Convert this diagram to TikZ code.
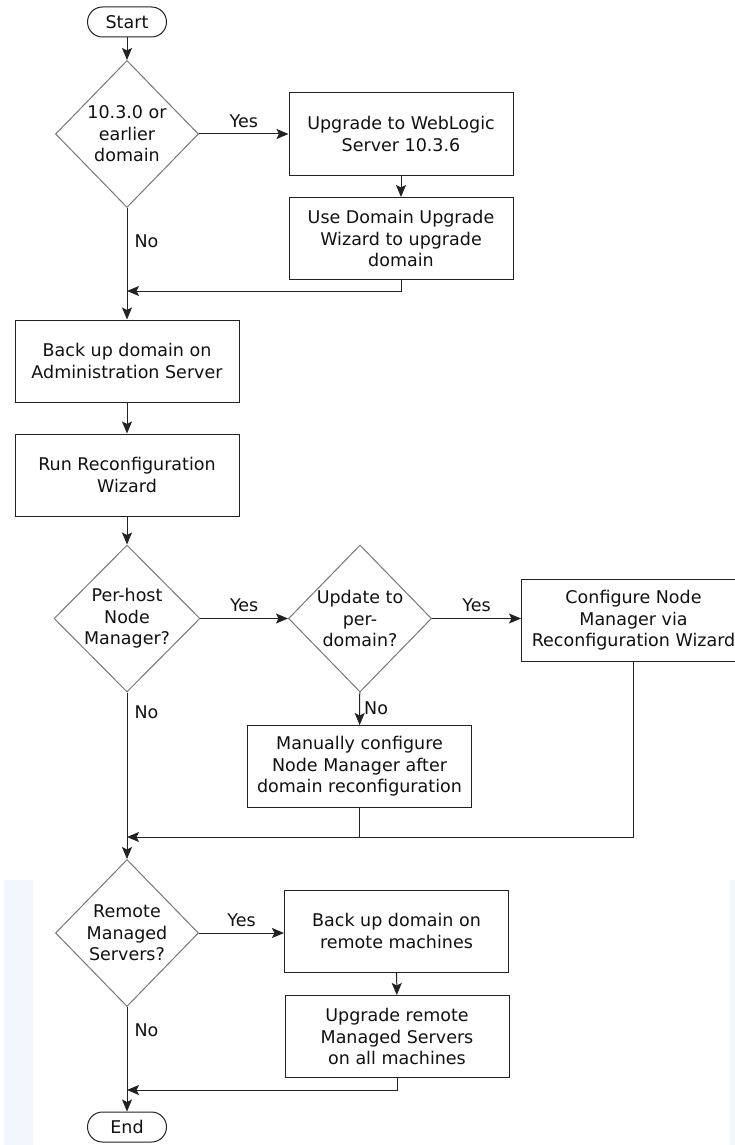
\documentclass[tikz,border=0pt]{standalone}
\usepackage{fontspec}
\setmainfont{DejaVu Sans}
\usetikzlibrary{shapes.geometric,arrows.meta}
\definecolor{linec}{HTML}{222222}
\definecolor{diac}{HTML}{777777}
\definecolor{txtc}{HTML}{111111}
\definecolor{bgstrip}{HTML}{F3F7FD}
\tikzset{
  x=1pt,y=-1pt,
  every node/.style={font=\fontsize{17.5}{21.5}\selectfont, text=txtc},
  procbox/.style={draw=linec, line width=1pt, rectangle, minimum width=224pt, minimum height=82pt, align=center, inner sep=2pt},
  decision/.style={draw=diac, line width=1pt, diamond, aspect=1, minimum width=143pt, minimum height=147pt, inner sep=0pt, align=center},
  termnode/.style={draw=linec, line width=1pt, rectangle, rounded corners=15pt, minimum width=79pt, minimum height=30pt, inner sep=0pt},
  arr/.style={draw=linec, line width=1pt, -{Stealth[length=12pt,width=10pt,inset=2.5pt]}},
  ln/.style={draw=linec, line width=1pt},
  lbl/.style={inner sep=0pt}
}
\begin{document}
\begin{tikzpicture}
\path[use as bounding box, clip] (0,0) rectangle (735,1145);
\fill[white] (0,0) rectangle (735,1145);
\fill[bgstrip] (4,880) rectangle (33,1145);
\fill[bgstrip] (730,880) rectangle (735,1145);

% nodes
\node[termnode] (start) at (127,22) {Start};
\node[decision] (d1) at (127,134) {10.3.0 or\\earlier\\domain};
\node[procbox] (b1) at (401,134) {Upgrade to WebLogic\\Server 10.3.6};
\node[procbox] (b2) at (401,238.5) {Use Domain Upgrade\\Wizard to upgrade\\domain};
\node[procbox] (b3) at (127,361) {Back up domain on\\Administration Server};
\node[procbox] (b4) at (127,475) {Run Reconfiguration\\Wizard};
\node[decision] (d2) at (127,618.5) {Per-host\\Node\\Manager?};
\node[decision] (d3) at (360,618.5) {Update to\\per-\\domain?};
\node[procbox] (b5) at (633.5,620.5) {Configure Node\\Manager via\\Reconfiguration Wizard};
\node[procbox] (b6) at (359.5,766.5) {Manually configure\\Node Manager after\\domain reconfiguration};
\node[decision] (d4) at (127,933) {Remote\\Managed\\Servers?};
\node[procbox] (b7) at (396.5,931) {Back up domain on\\remote machines};
\node[procbox] (b8) at (397,1036.5) {Upgrade remote\\Managed Servers\\on all machines};
\node[termnode] (end) at (127,1127) {End};

% junction points
\coordinate (j1) at (127,291);
\coordinate (j2) at (127,837);
\coordinate (j3) at (127,1090);

% connectors
\draw[arr] (start) -- (d1);
\draw[arr] (d1) -- node[lbl, above=6pt] {Yes} (b1);
\draw[arr] (b1) -- (b2);
\draw[arr] (b2.south) |- (j1);
\draw[arr] (d1) -- node[lbl, pos=0.3, right=7pt] {No} (b3);
\draw[arr] (b3) -- (b4);
\draw[arr] (b4) -- (d2);
\draw[arr] (d2) -- node[lbl, above=6pt] {Yes} (d3);
\draw[arr] (d3.east) -- node[lbl, above=6pt] {Yes} (d3.east -| b5.west);
\draw[arr] (d3) -- node[lbl, right=4pt] {No} (b6);
\draw[ln] (b6.south) -- (b6.south |- j2);
\draw[arr] (b5.south) |- (j2);
\draw[arr] (d2) -- node[lbl, pos=0.12, right=7pt] {No} (d4);
\draw[arr] (d4.east) -- node[lbl, above=6pt] {Yes} (d4.east -| b7.west);
\draw[arr] (b7) -- (b8);
\draw[arr] (b8.south) |- (j3);
\draw[arr] (d4) -- node[lbl, pos=0.22, right=7pt] {No} (end);
\end{tikzpicture}
\end{document}
